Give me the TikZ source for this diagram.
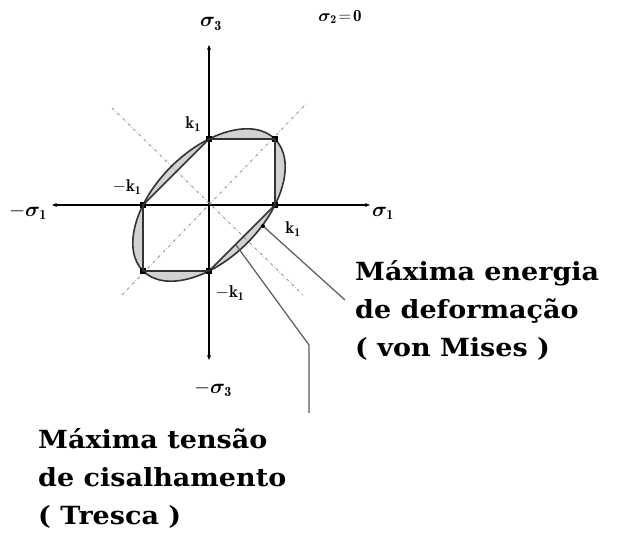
\documentclass[tikz,border=0pt]{standalone}
\usepackage{amsmath,amssymb}
\usepackage{bm}
\usepackage{fontspec}
\usepackage{xcolor}
\usepackage{tikz}
\usetikzlibrary{arrows.meta, calc, positioning}
\newfontfamily\captionfont[FakeStretch=1.08]{DejaVu Serif}
\definecolor{curvegray}{RGB}{50,50,50}
\definecolor{diaggray}{RGB}{150,150,150}
\definecolor{bandgray}{RGB}{210,210,210}

\begin{document}
\begin{tikzpicture}[x=1pt, y=1pt,
  axis/.style     = {{Stealth[length=5pt,width=4pt]}-{Stealth[length=5pt,width=4pt]}, line width=1.2pt},
  diag/.style     = {dash dot, line width=0.9pt, draw=diaggray},
  vmises/.style   = {line width=1.6pt, draw=curvegray},
  tresca/.style   = {line width=1.6pt, draw=black!80, line join=round},
  vertex/.style   = {rectangle, fill=black, inner sep=0pt, minimum size=6pt},
  lead/.style     = {line width=1.2pt, draw=black!65},
  axlabel/.style  = {font=\fontsize{20}{24}\selectfont, inner sep=1pt},
  klabel/.style   = {font=\fontsize{17}{20}\selectfont, inner sep=1pt},
  caption/.style  = {font=\captionfont\bfseries\fontsize{25}{38}\selectfont, align=left, anchor=west, inner sep=0pt},
]
\useasboundingbox (-209,205) rectangle (421,-346);
% Axes
\coordinate (o) at (0,0);
\coordinate (xl) at (-157,0);
\coordinate (xr) at (161,0);
\coordinate (yt) at (0,160);
\coordinate (yb) at (0,-155);
% Band between the two criteria
\fill[bandgray, even odd rule, rotate=45] (o) ellipse (93.3 and 53.9)
  [rotate=-45] (0,66) -- (66,66) -- (66,0) -- (0,-66) -- (-66,-66) -- (-66,0) -- cycle;
\draw[axis] (xl) -- (xr);
\draw[axis] (yb) -- (yt);
\node[axlabel] (s3) at (2,181) {$\bm{\sigma}_{\mathbf{3}}$};
\node[axlabel] (ms3) at (4,-184) {$-\bm{\sigma}_{\mathbf{3}}$};
\node[axlabel] (s1) at (174,-8) {$\bm{\sigma}_{\mathbf{1}}$};
\node[axlabel] (ms1) at (-181,-7) {$-\bm{\sigma}_{\mathbf{1}}$};
\node[klabel] (s2) at (131,188) {$\bm{\sigma}_{\mathbf{2}}\!=\!\mathbf{0}$};
% Diagonals
\coordinate (d1a) at (-87,-90);
\coordinate (d1b) at (98,102);
\coordinate (d2a) at (-97,97);
\coordinate (d2b) at (94,-90);
\draw[diag] (d1a) -- (d1b);
\draw[diag] (d2a) -- (d2b);
% Von Mises ellipse
\draw[vmises, rotate=45] (o) ellipse (93.3 and 53.9);
% Tresca hexagon
\node[vertex] (v1) at (0,66) {};
\node[vertex] (v2) at (66,66) {};
\node[vertex] (v3) at (66,0) {};
\node[vertex] (v4) at (0,-66) {};
\node[vertex] (v5) at (-66,-66) {};
\node[vertex] (v6) at (-66,0) {};
\draw[tresca] (v1.center) -- (v2.center) -- (v3.center) -- (v4.center) -- (v5.center) -- (v6.center) -- cycle;
\node[klabel] (k1t) at (-16,81) {$\mathbf{k}_{\mathbf{1}}$};
\node[klabel] (k1l) at (-82,18) {$-\mathbf{k}_{\mathbf{1}}$};
\node[klabel] (k1r) at (84,-24) {$\mathbf{k}_{\mathbf{1}}$};
\node[klabel] (k1b) at (21,-88) {$-\mathbf{k}_{\mathbf{1}}$};
% Leaders
\coordinate (vm) at (54,-21);
\coordinate (vmend) at (136,-95);
\coordinate (tr) at (27,-40);
\coordinate (trbend) at (100,-140);
\coordinate (trend) at (100,-208);
\draw[lead] (vm) -- (vmend);
\draw[lead] (tr) -- (trbend) -- (trend);
\fill (vm) circle (2pt);
% Captions
\node[caption] (vmtext) at (146,-105) {Máxima energia\\de deformação\\( von Mises )};
\node[caption] (trtext) at (-171,-273) {Máxima tensão\\de cisalhamento\\( Tresca )};
\end{tikzpicture}
\end{document}
